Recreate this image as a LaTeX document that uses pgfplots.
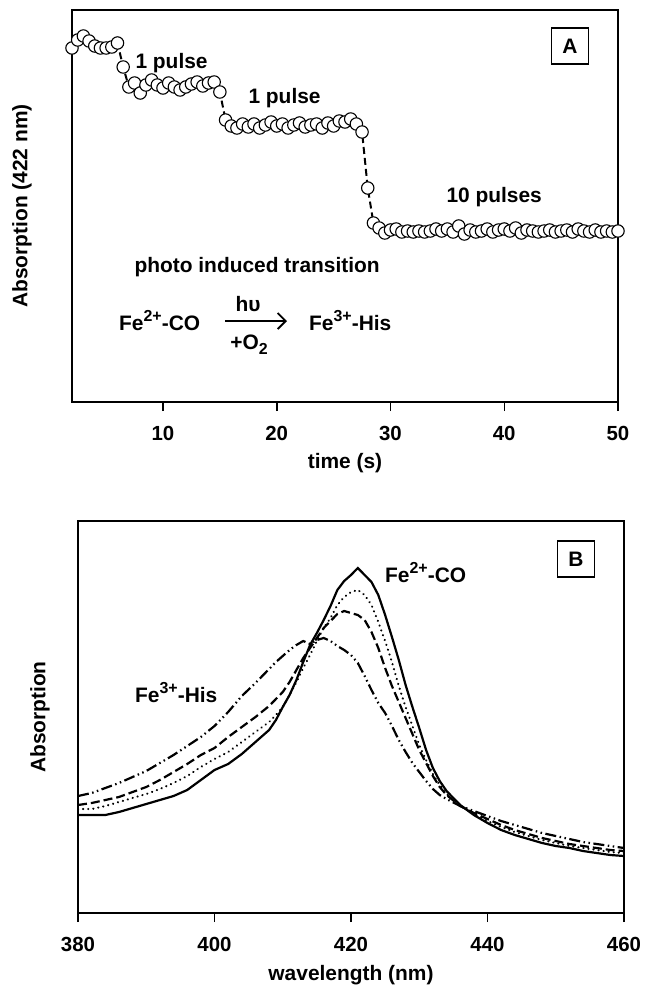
\documentclass[border=0pt]{standalone}
\usepackage{pgfplots}
\pgfplotsset{compat=1.18}
\usepackage{pgfplotstable}
\usepackage{fontspec}
\setmainfont{Liberation Sans}
\usetikzlibrary{arrows.meta}

\pgfplotstableread{
t a
2.0 354
2.5 362
3.0 366
3.5 361
4.0 356
4.5 354
5.0 354
5.5 355
6.0 359
6.5 335
7.0 315
7.5 319
8.0 309
8.5 317
9.0 322
9.5 317
10.0 314
10.5 319
11.0 315
11.5 312
12.0 315
12.5 318
13.0 320
13.5 316
14.0 319
14.5 320
15.0 310
15.5 282
16.0 276
16.5 274
17.0 278
17.5 275
18.0 278
18.5 274
19.0 277
19.5 280
20.0 276
20.5 278
21.0 274
21.5 277
22.0 279
22.5 275
23.0 277
23.5 278
24.0 274
24.5 279
25.0 276
25.5 281
26.0 280
26.5 283
27.0 278
27.5 270
28.0 214
28.5 179
29.0 174
29.5 169
30.0 172
30.5 173
31.0 170
31.5 171
32.0 170
32.5 171
33.0 170
33.5 171
34.0 173
34.5 171
35.0 173
35.5 170
36.0 176
36.5 168
37.0 172
37.5 170
38.0 171
38.5 173
39.0 170
39.5 172
40.0 173
40.5 171
41.0 174
41.5 169
42.0 172
42.5 171
43.0 170
43.5 171
44.0 172
44.5 170
45.0 171
45.5 172
46.0 170
46.5 173
47.0 171
47.5 170
48.0 172
48.5 170
49.0 171
49.5 170
50.0 171
}\kinetics

% spectra: wavelength, pixel row (converted to height by 913-py in the plot)
\pgfplotstableread{
w s d dd ddd
380 815 809 805 796
382 815 809 803 793
384 815 806 800 788
386 812 802 797 783
388 808 798 792 777
390 804 794 787 771
392 800 789 780 763
394 796 783 772 755
396 790 776 764 746
398 780 767 755 737
400 770 759 748 726
402 764 752 737 712
404 754 742 727 696
406 742 732 717 683
408 730 722 706 669
409 720 715 699 662
410 707 707 692 656
411 695 695 682 650
412 680 682 670 645
413 662 668 658 641
414 645 655 648 644
415 633 641 638 640
416 620 628 628 638
417 606 618 621 641
418 590 605 614 646
419 581 597 611 650
420 575 592 613 655
421 568 590 615 663
422 575 595 620 676
423 582 605 632 690
424 595 622 648 703
425 615 641 668 713
426 637 662 686 726
427 660 686 702 740
428 685 707 718 752
429 707 726 734 763
430 728 745 750 772
431 750 760 763 781
432 768 774 776 789
433 781 785 787 795
434 791 794 795 799
436 805 806 806 806
438 815 814 813 811
440 823 821 819 816
442 830 827 825 821
444 835 832 830 825
446 839 836 834 829
448 843 840 838 833
450 846 843 841 836
452 848 846 844 839
454 851 848 846 842
456 853 850 848 844
458 855 852 850 846
460 856 853 851 848
}\spectra

\newcommand\sups[1]{\raisebox{0.42em}{\fontsize{16}{18}\selectfont #1}}
\newcommand\subs[1]{\raisebox{-0.28em}{\fontsize{16}{18}\selectfont #1}}

\begin{document}
\begin{tikzpicture}
\path[use as bounding box] (0,0) rectangle (645bp,-988bp);
\pgfplotsset{
  panel/.style={
    scale only axis, width=546bp, height=392bp,
    axis line style={line width=1.5bp},
    ytick=\empty,
    xtick pos=bottom,
    tick align=outside,
    major tick length=9bp,
    every tick/.style={black, line width=1.5bp},
    tick label style={font=\fontsize{20.5}{24}\selectfont\bfseries},
    xticklabel style={yshift=-12bp},
    /pgf/number format/assume math mode=true,
    label style={font=\fontsize{21}{25}\selectfont\bfseries},
    ymin=0, ymax=392,
  }
}
\def\lblfont{\fontsize{21}{25}\selectfont\bfseries}

% ---------- Panel A ----------
\begin{axis}[panel,
  anchor=south west, at={(72bp,-402bp)},
  xmin=2, xmax=50, xtick={10,20,30,40,50},
  clip=false,
  xlabel={time (s)},
  xlabel style={at={(axis description cs:0.5,-0.1556)}, anchor=center},
  ylabel={Absorption (422 nm)},
  ylabel style={at={(axis description cs:-0.0916,0.5)}, anchor=center},
]
\addplot[black, line width=2bp, dash pattern=on 7bp off 4bp,
  mark=*, mark size=6.2bp,
  mark options={solid, fill=white, draw=black, line width=1.1bp}]
  table[x=t, y=a] {\kinetics};
\end{axis}

\node[anchor=base west, font=\lblfont] at (132bp,-68bp) {1 pulse};
\node[anchor=base west, font=\lblfont] at (245bp,-103bp) {1 pulse};
\node[anchor=base west, font=\lblfont] at (443bp,-202bp) {10 pulses};
\node[anchor=base west, font=\lblfont] at (131bp,-272bp) {photo induced transition};
\node[anchor=base west, font=\lblfont, inner sep=0pt] at (119bp,-330bp) {Fe\sups{2+}-CO};
\node[anchor=base west, font=\lblfont, inner sep=0pt] at (309bp,-330bp) {Fe\sups{3+}-His};
\draw[line width=1.8bp, -{Straight Barb[length=8bp,width=16bp,line width=1.8bp]}] (225bp,-321bp) -- (287bp,-321bp);
\node[anchor=base, font=\lblfont] at (248bp,-311bp) {hυ};
\node[anchor=base, font=\lblfont] at (249bp,-349bp) {+O\subs{2}};
\node[draw, line width=1.5bp, minimum width=37bp, minimum height=36bp, inner sep=0pt, font=\lblfont] at (570bp,-46bp) {A};

% ---------- Panel B ----------
\begin{axis}[panel,
  anchor=south west, at={(78bp,-913bp)},
  xmin=380, xmax=460, xtick={380,400,420,440,460},
  xlabel={wavelength (nm)},
  xlabel style={at={(axis description cs:0.5,-0.158)}, anchor=center},
  ylabel={Absorption},
  ylabel style={at={(axis description cs:-0.0696,0.5)}, anchor=center},
]
\addplot[black, line width=2.2bp, solid] table[x=w, y expr=913-\thisrow{s}] {\spectra};
\addplot[black, line width=2.3bp, dash pattern=on 0.1bp off 5bp, line cap=round] table[x=w, y expr=913-\thisrow{d}] {\spectra};
\addplot[black, line width=2.2bp, dash pattern=on 9bp off 4bp] table[x=w, y expr=913-\thisrow{dd}] {\spectra};
\addplot[black, line width=2.2bp, dash pattern=on 11bp off 3.5bp on 1.5bp off 3.5bp on 1.5bp off 3.5bp] table[x=w, y expr=913-\thisrow{ddd}] {\spectra};
\end{axis}

\node[anchor=base west, font=\lblfont, inner sep=0pt] at (385bp,-582bp) {Fe\sups{2+}-CO};
\node[anchor=base west, font=\lblfont, inner sep=0pt] at (135bp,-702bp) {Fe\sups{3+}-His};
\node[draw, line width=1.5bp, minimum width=37bp, minimum height=36bp, inner sep=0pt, font=\lblfont] at (576bp,-559bp) {B};
\end{tikzpicture}
\end{document}
